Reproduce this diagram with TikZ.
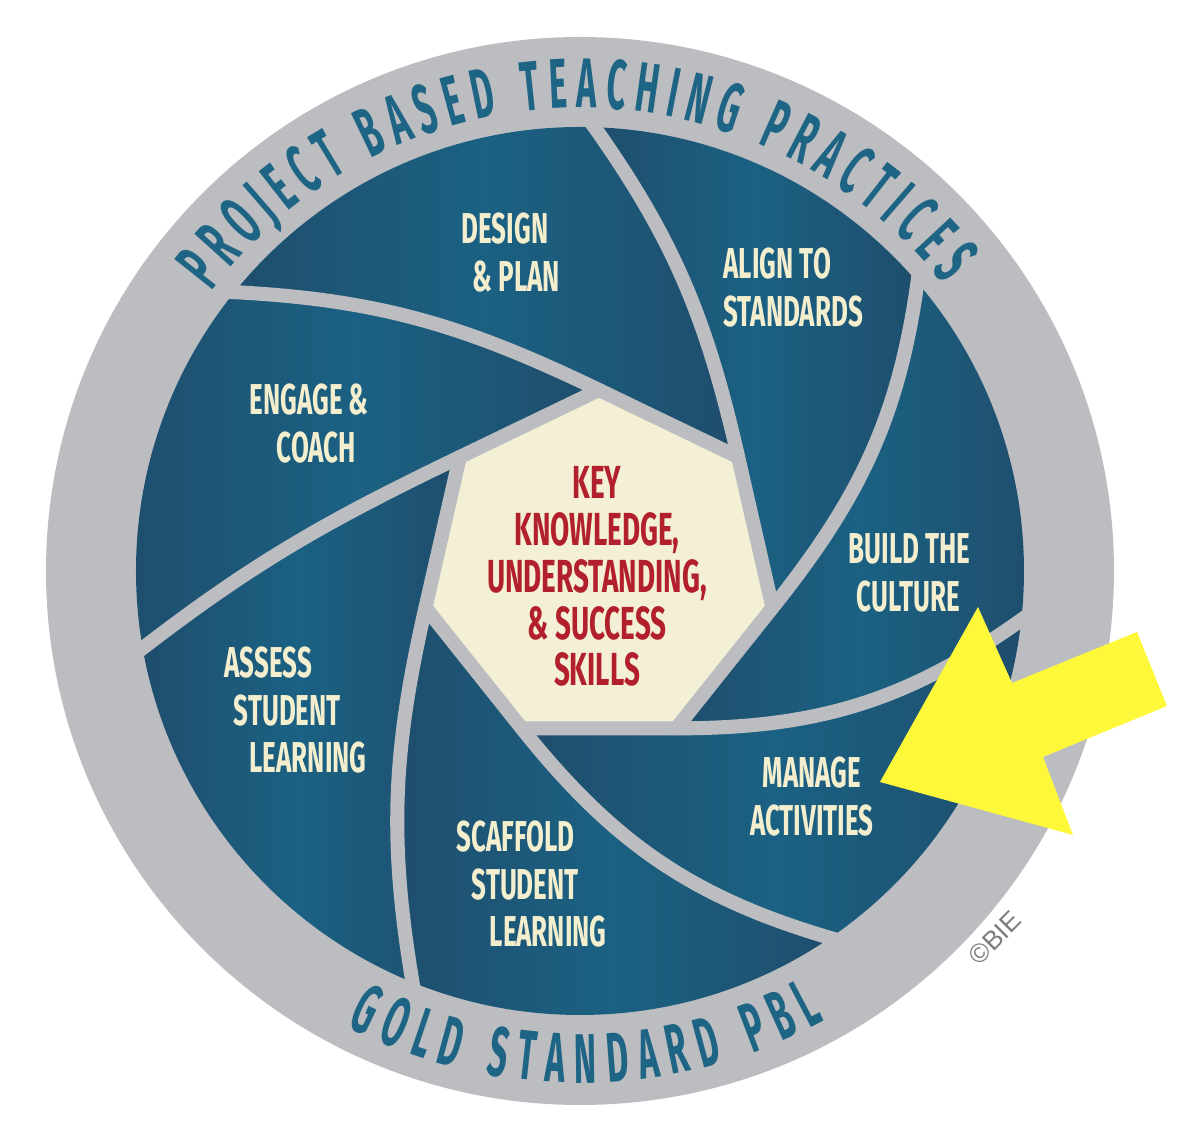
\documentclass[tikz,border=0pt]{standalone}
\usepackage{fontspec}
\usetikzlibrary{decorations.text}
\newfontfamily\pblfont[FakeStretch=0.6]{Fira Sans}
\newfontfamily\ringface[FakeStretch=0.48]{Fira Sans}
\newfontfamily\biefont{Liberation Sans}
\newcommand\ringfont{\ringface\bfseries\fontsize{20}{20}\selectfont}
\definecolor{ringgray}{HTML}{BBBDC0}
\definecolor{bladedark}{HTML}{1F4D6C}
\definecolor{bladelight}{HTML}{1B6183}
\definecolor{eyecream}{HTML}{F4F0D6}
\definecolor{labelcream}{HTML}{F2EECE}
\definecolor{keyred}{HTML}{B2202E}
\definecolor{ringblue}{HTML}{1E6484}
\definecolor{arrowyellow}{HTML}{FDF93A}
\definecolor{biegray}{HTML}{7D7D7D}
\tikzset{
  blade/.style={left color=bladedark, right color=bladedark, middle color=bladelight},
  gap/.style={draw=ringgray, line width=4pt},
  bladelabel/.style={text=labelcream, font=\pblfont\bfseries\fontsize{12.3}{13.6}\selectfont,
    inner sep=0pt, align=left, anchor=north west},
}
\begin{document}
\begin{tikzpicture}
  \fill[white] (-5.80,-5.67) rectangle (6.14,5.71);
  \useasboundingbox (-5.80,-5.67) rectangle (6.14,5.71);
  \fill[ringgray] (0,0) circle (5.34);
  % heptagon corners and where the blade edges meet the rim
  \coordinate (hc) at (0.19,0.03);
  \foreach \i in {1,...,7}
    \path (hc) ++({90-(\i-1)*360/7}:1.78) coordinate (v\i);
  \foreach \i/\b in {1/141.65, 2/88.7, 3/41.2, 4/-5.65, 5/-55.1, 6/-111.7, 7/190.4}
    \coordinate (p\i) at (\b:4.5);
  \begin{scope}
    \clip (0,0) circle (4.44);
    \foreach \i/\oi/\ni/\j/\oj/\nj/\sa/\ea in {
        1/154.29/357.3/2/102.86/305.5/88.7/141.65,
        2/102.86/305.5/3/51.43/262.4/41.2/88.7,
        3/51.43/262.4/4/0/215.8/-5.65/41.2,
        4/0/215.8/5/-51.43/164.0/-55.1/-5.65,
        5/-51.43/164.0/6/257.14/99.7/-111.7/-55.1,
        6/257.14/99.7/7/205.71/37.7/190.4/248.3,
        7/205.71/37.7/1/154.29/357.3/141.65/190.4}
      \path[blade] (p\i) to[out=\ni, in=\oi] (v\i) -- (v\j)
        to[out=\oj, in=\nj] (p\j) arc[start angle=\sa, end angle=\ea, radius=4.5] -- cycle;
  \end{scope}
  \foreach \i/\o/\n in {1/154.29/357.3, 2/102.86/305.5, 3/51.43/262.4, 4/0/215.8,
      5/-51.43/164.0, 6/257.14/99.7, 7/205.71/37.7}
    \draw[gap] (v\i) to[out=\o, in=\n] (p\i);
  \filldraw[fill=eyecream, gap, line join=round]
    (v1) -- (v2) -- (v3) -- (v4) -- (v5) -- (v6) -- (v7) -- cycle;

  \node[bladelabel] (design) at (-1.19,3.59) {DESIGN\\\hspace*{3.1pt}\& PLAN};
  \node[bladelabel] (align) at (1.43,3.24) {ALIGN TO\\STANDARDS};
  \node[bladelabel] (engage) at (-3.31,1.88) {ENGAGE \&\\\hspace*{7.7pt}COACH};
  \node[bladelabel] (build) at (2.68,0.38) {BUILD THE\\\hspace*{2.3pt}CULTURE};
  \node[bladelabel] (assess) at (-3.56,-0.75) {ASSESS\\\hspace*{2.6pt}STUDENT\\\hspace*{7.1pt}LEARNING};
  \node[bladelabel, align=center, anchor=north] (manage) at (2.32,-1.85) {MANAGE\\ACTIVITIES};
  \node[bladelabel] (scaffold) at (-1.24,-2.49) {SCAFFOLD\\\hspace*{4.3pt}STUDENT\\\hspace*{9.4pt}LEARNING};
  \node[text=keyred, font=\pblfont\bfseries\fontsize{13.2}{13.3}\selectfont,
    inner sep=0pt, align=center, anchor=north] (key) at (0.17,1.05)
    {KEY\\KNOWLEDGE,\\UNDERSTANDING,\\\& SUCCESS\\SKILLS};

  \path[decorate, decoration={text along path, text color=ringblue,
      text={|\ringfont|PROJECT BASED TEACHING PRACTICES}, text align=fit to path}]
    (142.8:4.63) arc[start angle=142.8, end angle=38.3, radius=4.63];
  \path[decorate, decoration={text along path, text color=ringblue,
      text={|\ringfont|GOLD STANDARD PBL}, text align=fit to path}]
    (242.9:5.12) arc[start angle=242.9, end angle=298.6, radius=5.12];

  \node[rotate=45, text=biegray, font=\biefont\fontsize{7.5}{8}\selectfont] (bie) at (4.15,-3.67) {©BIE};

  \fill[arrowyellow] (3.00,-2.11) -- (3.98,-0.36) -- (4.32,-1.12) -- (5.57,-0.61)
    -- (5.87,-1.35) -- (4.63,-1.86) -- (4.93,-2.64) -- cycle;
\end{tikzpicture}
\end{document}
